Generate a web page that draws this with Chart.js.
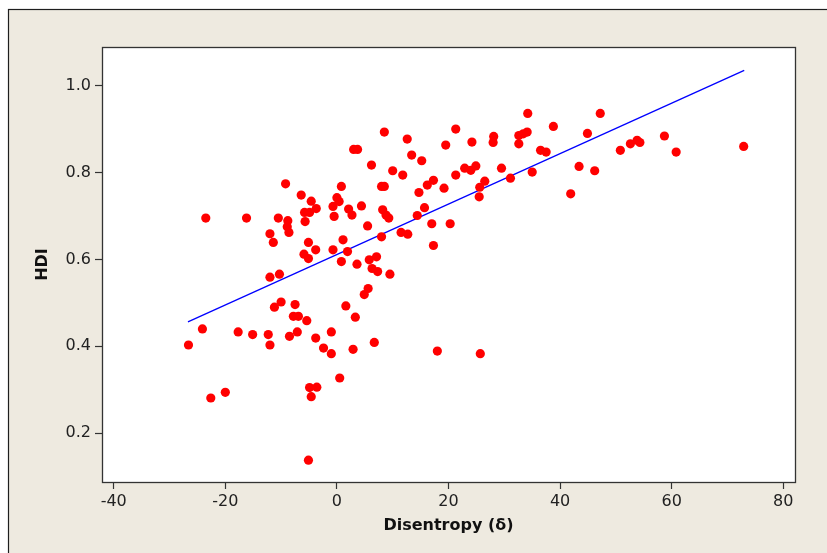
<!DOCTYPE html>
<html lang="en">
<head>
<meta charset="UTF-8">
<title>HDI vs Disentropy</title>
<script src="https://cdn.jsdelivr.net/npm/chart.js"></script>
<style>
  body { margin: 0; background: #fff; }
  #grafico { display: block; }
</style>
</head>
<body>
<canvas id="grafico" width="827" height="553"></canvas>
<script>
  // disentropy (delta) of each country
  const disentropia = [
    -23.5, -16.2, -9.2, -6.4, -4.6, -3.7, -5.8, -4.9, -5.7, -10.5,
    -8.8, -8.9, -8.6, -12.0, -11.4, -5.1, -3.8, -5.9, -5.1, -12.0,
    -10.3, 0.8, 0.0, 0.4, -0.7, -0.5, 2.1, 2.7, 4.4, -0.7,
    1.1, 1.9, 0.8, 3.6, -11.2, -10.0, -7.5, -7.8, -6.9, -5.4,
    1.6, 3.3, -24.1, -26.6, -17.7, -15.1, -12.3, -12.0, -8.5, -7.1,
    -3.8, -2.4, -1.0, -1.0, 2.9, 0.5, -4.9, -3.6, -4.6, -22.6,
    -20.0, -5.1, 8.5, 3.0, 3.7, 12.6, 13.4, 15.2, 6.2, 10.0,
    11.8, 21.3, 19.5, 24.2, 28.1, 28.0, 34.2, 32.6, 33.4, 34.1,
    32.6, 36.5, 37.5, 5.5, 8.0, 8.5, 8.2, 8.8, 9.3, 8.0,
    5.8, 7.1, 6.3, 7.3, 9.5, 11.5, 12.7, 17.0, 17.3, 20.3,
    14.4, 15.7, 14.7, 16.2, 17.3, 19.2, 21.3, 22.9, 24.0, 24.9,
    26.5, 25.6, 25.5, 29.5, 31.1, 35.0, 5.6, 4.9, 6.7, 18.0,
    25.7, 38.8, 47.2, 44.9, 43.4, 46.2, 41.9, 50.8, 52.6, 53.8,
    54.3, 58.7, 60.8, 72.9
  ];
  // HDI of each country
  const hdi = [
    0.695, 0.695, 0.774, 0.748, 0.734, 0.717, 0.708, 0.708, 0.687, 0.695,
    0.689, 0.675, 0.662, 0.659, 0.639, 0.639, 0.622, 0.612, 0.602, 0.559,
    0.566, 0.768, 0.742, 0.733, 0.722, 0.699, 0.716, 0.702, 0.723, 0.622,
    0.645, 0.618, 0.595, 0.589, 0.490, 0.502, 0.496, 0.469, 0.469, 0.459,
    0.493, 0.467, 0.440, 0.403, 0.433, 0.427, 0.427, 0.403, 0.423, 0.433,
    0.419, 0.396, 0.383, 0.433, 0.393, 0.327, 0.305, 0.306, 0.284, 0.281,
    0.294, 0.138, 0.893, 0.853, 0.853, 0.877, 0.840, 0.827, 0.817, 0.804,
    0.794, 0.900, 0.863, 0.870, 0.883, 0.869, 0.936, 0.885, 0.889, 0.893,
    0.866, 0.851, 0.847, 0.677, 0.768, 0.768, 0.714, 0.702, 0.695, 0.652,
    0.599, 0.606, 0.579, 0.572, 0.566, 0.662, 0.658, 0.682, 0.632, 0.682,
    0.701, 0.719, 0.754, 0.771, 0.782, 0.764, 0.794, 0.810, 0.805, 0.815,
    0.780, 0.766, 0.744, 0.810, 0.787, 0.801, 0.533, 0.519, 0.409, 0.389,
    0.383, 0.906, 0.936, 0.890, 0.814, 0.804, 0.751, 0.851, 0.866, 0.874,
    0.869, 0.884, 0.847, 0.860
  ];
  // fitted line ends
  const retaX = [-26.7, 73.0];
  const retaY = [0.456, 1.035];

  const ticksX = [-40, -20, 0, 20, 40, 60, 80];
  const ticksY = [0.2, 0.4, 0.6, 0.8, 1.0];

  const pontos = disentropia.map((x, i) => ({ x: x, y: hdi[i] }));
  const reta = retaX.map((x, i) => ({ x: x, y: retaY[i] }));

  const fundo = {
    id: 'fundo',
    beforeDraw(chart) {
      const ctx = chart.ctx;
      const a = chart.chartArea;
      ctx.save();
      ctx.fillStyle = '#ffffff';
      ctx.fillRect(0, 0, chart.width, chart.height);
      ctx.fillStyle = '#eeeae0';
      ctx.fillRect(8.5, 9.5, chart.width + 20, chart.height + 20);
      ctx.strokeStyle = '#1e1e1e';
      ctx.lineWidth = 1.2;
      ctx.strokeRect(8.5, 9.5, chart.width + 20, chart.height + 20);
      ctx.fillStyle = '#ffffff';
      ctx.fillRect(a.left, a.top, a.right - a.left, a.bottom - a.top);
      ctx.restore();
    },
    afterDraw(chart) {
      const ctx = chart.ctx;
      const a = chart.chartArea;
      ctx.save();
      ctx.strokeStyle = '#333333';
      ctx.lineWidth = 1.3;
      ctx.strokeRect(a.left + 0.5, a.top + 0.5, a.right - a.left, a.bottom - a.top);
      ctx.restore();
    }
  };

  const fonteTick = { family: 'DejaVu Sans', size: 16 };
  const fonteTitulo = { family: 'DejaVu Sans', size: 16, weight: 'bold' };

  new Chart(document.getElementById('grafico'), {
    type: 'scatter',
    data: {
      datasets: [
        {
          data: pontos,
          backgroundColor: '#ff0000',
          borderWidth: 0,
          pointRadius: 4.6,
          pointHoverRadius: 4.6
        },
        {
          data: reta,
          showLine: true,
          borderColor: '#0000ff',
          borderWidth: 1.3,
          pointRadius: 0
        }
      ]
    },
    options: {
      responsive: false,
      animation: false,
      events: [],
      layout: { padding: { left: 0, top: 47, right: 32, bottom: 0 } },
      plugins: { legend: { display: false }, tooltip: { enabled: false } },
      scales: {
        x: {
          type: 'linear',
          min: -42.1,
          max: 82.1,
          afterFit: s => { s.height = 71; },
          afterBuildTicks: s => { s.ticks = ticksX.map(v => ({ value: v })); },
          border: { display: false },
          grid: { drawOnChartArea: false, drawTicks: true, tickLength: 7, color: '#333333', tickWidth: 1.2 },
          ticks: { font: fonteTick, color: '#222222', padding: 3 },
          title: { display: true, text: 'Disentropy (δ)', font: fonteTitulo, color: '#111111', padding: { top: 0, bottom: 18 } }
        },
        y: {
          type: 'linear',
          min: 0.0877,
          max: 1.0888,
          afterFit: s => { s.width = 102; },
          afterBuildTicks: s => { s.ticks = ticksY.map(v => ({ value: v })); },
          border: { display: false },
          grid: { drawOnChartArea: false, drawTicks: true, tickLength: 7, color: '#333333', tickWidth: 1.2 },
          ticks: { font: fonteTick, color: '#222222', padding: 4, callback: v => v.toFixed(1) },
          title: { display: true, text: 'HDI', font: fonteTitulo, color: '#111111', padding: { top: 33, bottom: 0 } }
        }
      }
    },
    plugins: [fundo]
  });
</script>
</body>
</html>
